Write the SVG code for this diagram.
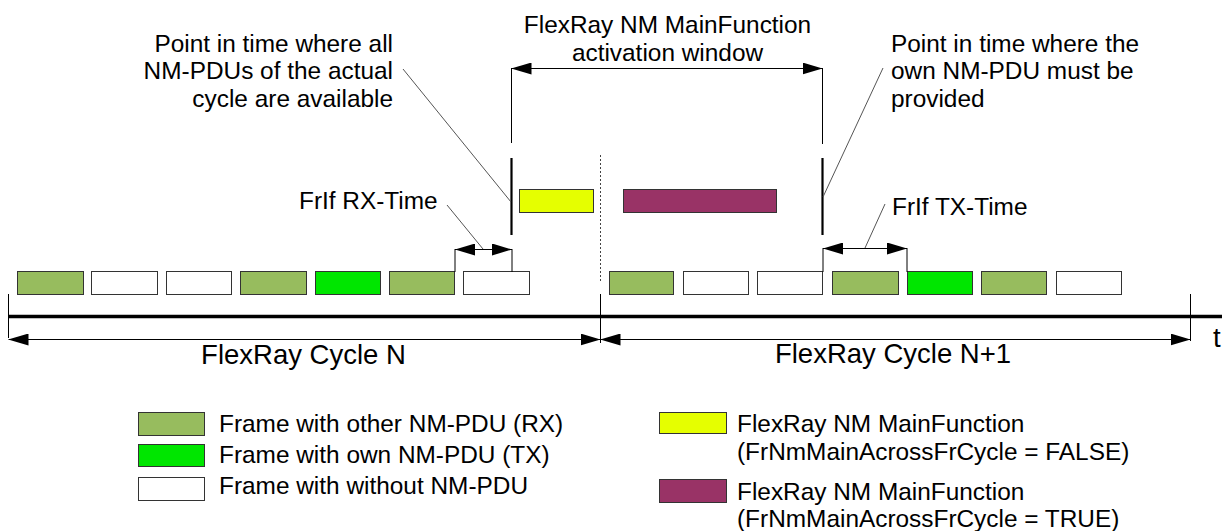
<svg xmlns="http://www.w3.org/2000/svg" width="1222" height="531" viewBox="0 0 1222 531">
<style>
text{font-family:"Liberation Sans",Arial,sans-serif;font-size:24.4px;fill:#000}
.big{font-size:27.5px}
.fr{stroke:#333;stroke-width:1}
.rx{fill:#97bc5e}
.tx{fill:#00e600}
.no{fill:#fff}
.yl{fill:#e5ff00}
.pu{fill:#993366}
.thin{stroke:#000;stroke-width:1;fill:none}
.lead{stroke:#555;stroke-width:1;fill:none}
.thick{stroke:#000;stroke-width:2.2;fill:none}
.dim{stroke:#000;stroke-width:1;fill:none;marker-start:url(#ah);marker-end:url(#ah)}
</style>
<defs>
<marker id="ah" markerWidth="20" markerHeight="12" refX="20" refY="6" orient="auto-start-reverse" markerUnits="userSpaceOnUse">
<path d="M0,0 L20,6 L0,12 z" fill="#000"/>
</marker>
</defs>
<rect width="1222" height="531" fill="#fff"/>

<g id="frames-cycle-n">
<rect class="fr rx" x="17.5" y="271.5" width="66" height="23"/>
<rect class="fr no" x="91.5" y="271.5" width="66" height="23"/>
<rect class="fr no" x="166.5" y="271.5" width="65" height="23"/>
<rect class="fr rx" x="240.5" y="271.5" width="66" height="23"/>
<rect class="fr tx" x="315.5" y="271.5" width="65" height="23"/>
<rect class="fr rx" x="389.5" y="271.5" width="65" height="23"/>
<rect class="fr no" x="463.5" y="271.5" width="66" height="23"/>
</g>
<g id="frames-cycle-n1">
<rect class="fr rx" x="609.5" y="271.5" width="64" height="23"/>
<rect class="fr no" x="683.5" y="271.5" width="65" height="23"/>
<rect class="fr no" x="757.5" y="271.5" width="65" height="23"/>
<rect class="fr rx" x="832.5" y="271.5" width="66" height="23"/>
<rect class="fr tx" x="907.5" y="271.5" width="65" height="23"/>
<rect class="fr rx" x="981.5" y="271.5" width="65" height="23"/>
<rect class="fr no" x="1056.5" y="271.5" width="65" height="23"/>
</g>

<g id="mainfunction-false">
<rect class="fr yl" x="519.5" y="189.5" width="74" height="23"/>
</g>
<g id="mainfunction-true">
<rect class="fr pu" x="623.5" y="189.5" width="153" height="23"/>
</g>

<g id="connectors">
<!-- timeline -->
<line x1="8" y1="316.5" x2="1222" y2="316.5" stroke="#000" stroke-width="3.5"/>
<line class="thin" x1="8.5" y1="294" x2="8.5" y2="338"/>
<line class="thin" x1="600.5" y1="294" x2="600.5" y2="343"/>
<line class="thin" x1="1190.5" y1="294" x2="1190.5" y2="341"/>
<line class="dim" x1="8.5" y1="339.5" x2="600.5" y2="339.5"/>
<line class="dim" x1="600.5" y1="339.5" x2="1190.5" y2="339.5"/>
<!-- cycle boundary dotted -->
<line x1="600.5" y1="155" x2="600.5" y2="282" stroke="#444" stroke-width="1" stroke-dasharray="2,2"/>
<!-- activation window -->
<line class="thin" x1="511.5" y1="68" x2="511.5" y2="143"/>
<line class="thin" x1="822.5" y1="68" x2="822.5" y2="144"/>
<line class="dim" x1="511.5" y1="68.5" x2="822.5" y2="68.5"/>
<line class="thick" x1="511.5" y1="158" x2="511.5" y2="235"/>
<line class="thick" x1="822.5" y1="158" x2="822.5" y2="235"/>
<!-- RX time -->
<line class="thin" x1="455" y1="249" x2="455" y2="272"/>
<line class="thin" x1="512" y1="249" x2="512" y2="272"/>
<line class="dim" x1="455" y1="249.5" x2="512" y2="249.5"/>
<!-- TX time -->
<line class="thin" x1="823" y1="248" x2="823" y2="272"/>
<line class="thin" x1="907" y1="248" x2="907" y2="272"/>
<line class="dim" x1="823" y1="248.5" x2="907" y2="248.5"/>
<!-- leaders -->
<line class="lead" x1="403" y1="69" x2="511" y2="202"/>
<line class="lead" x1="883" y1="68" x2="823" y2="197"/>
<line class="lead" x1="447" y1="205" x2="483" y2="249"/>
<line class="lead" x1="885" y1="204" x2="865" y2="248"/>
</g>

<g id="label-activation-window">
<text x="667.5" y="33" text-anchor="middle">FlexRay NM MainFunction</text>
<text x="667.5" y="61" text-anchor="middle">activation window</text>
</g>
<g id="label-all-pdus">
<text x="393" y="51.5" text-anchor="end">Point in time where all</text>
<text x="393" y="79" text-anchor="end">NM-PDUs of the actual</text>
<text x="393" y="106.5" text-anchor="end">cycle are available</text>
</g>
<g id="label-own-pdu">
<text x="891" y="51.5">Point in time where the</text>
<text x="891" y="79">own NM-PDU must be</text>
<text x="891" y="106.5">provided</text>
</g>
<g id="label-rx-time">
<text x="299" y="209">FrIf RX-Time</text>
</g>
<g id="label-tx-time">
<text x="892" y="215">FrIf TX-Time</text>
</g>
<g id="label-cycles">
<text class="big" x="303.5" y="364" text-anchor="middle">FlexRay Cycle N</text>
<text class="big" x="893" y="363" text-anchor="middle">FlexRay Cycle N+1</text>
<text class="big" x="1213" y="347">t</text>
</g>

<g id="legend-rx">
<rect class="fr rx" x="138.5" y="412.5" width="66" height="23"/>
<text x="219" y="432">Frame with other NM-PDU (RX)</text>
</g>
<g id="legend-tx">
<rect class="fr tx" x="138.5" y="444.5" width="66" height="22"/>
<text x="219" y="463">Frame with own NM-PDU (TX)</text>
</g>
<g id="legend-none">
<rect class="fr no" x="138.5" y="477.5" width="66" height="23"/>
<text x="219" y="494">Frame with without NM-PDU</text>
</g>
<g id="legend-false">
<rect class="fr yl" x="659.5" y="412.5" width="67" height="21"/>
<text x="737" y="432">FlexRay NM MainFunction</text>
<text x="737" y="460">(FrNmMainAcrossFrCycle = FALSE)</text>
</g>
<g id="legend-true">
<rect class="fr pu" x="659.5" y="479.5" width="67" height="23"/>
<text x="737" y="500">FlexRay NM MainFunction</text>
<text x="737" y="527">(FrNmMainAcrossFrCycle = TRUE)</text>
</g>
</svg>
